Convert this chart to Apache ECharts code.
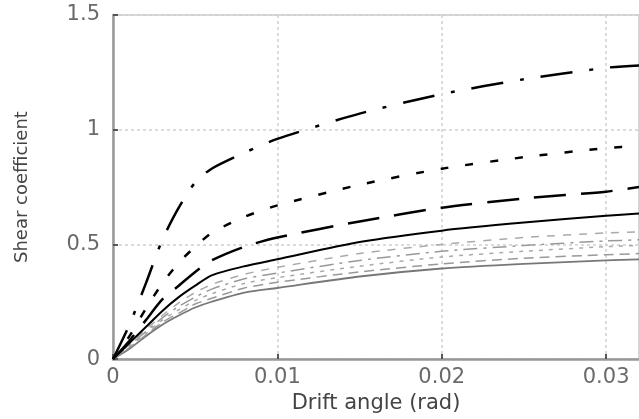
<!DOCTYPE html>
<html>
<head>
<meta charset="utf-8">
<script src="https://cdn.jsdelivr.net/npm/echarts@6/dist/echarts.min.js"></script>
<style>html,body{margin:0;padding:0;background:#fff}#c{width:639px;height:419px}</style>
</head>
<body>
<div id="c"></div>
<script>
var driftAngle = [0, 0.001, 0.002, 0.003, 0.004, 0.005, 0.006, 0.008, 0.01, 0.015, 0.02, 0.025, 0.03, 0.032];
var curveDashDot = [0, 0.15, 0.33, 0.52, 0.66, 0.77, 0.83, 0.90, 0.96, 1.07, 1.155, 1.22, 1.27, 1.28];
var curveDotted  = [0, 0.10, 0.22, 0.33, 0.42, 0.49, 0.55, 0.62, 0.67, 0.76, 0.83, 0.88, 0.92, 0.93];
var curveDashed  = [0, 0.08, 0.17, 0.26, 0.32, 0.38, 0.43, 0.49, 0.53, 0.60, 0.66, 0.70, 0.73, 0.75];
var curveSolid   = [0, 0.07, 0.14, 0.21, 0.27, 0.32, 0.365, 0.405, 0.435, 0.51, 0.56, 0.595, 0.625, 0.635];
var curveLight1  = [0, 0.065, 0.13, 0.19, 0.245, 0.29, 0.325, 0.37, 0.40, 0.46, 0.50, 0.53, 0.55, 0.555];
var curveLight2  = [0, 0.06, 0.12, 0.18, 0.23, 0.27, 0.305, 0.35, 0.375, 0.43, 0.47, 0.495, 0.515, 0.52];
var curveLight3  = [0, 0.055, 0.11, 0.17, 0.215, 0.255, 0.285, 0.33, 0.355, 0.405, 0.445, 0.47, 0.49, 0.495];
var curveLight4  = [0, 0.05, 0.105, 0.16, 0.20, 0.24, 0.265, 0.31, 0.335, 0.38, 0.415, 0.44, 0.455, 0.46];
var curveLight5  = [0, 0.045, 0.10, 0.15, 0.19, 0.225, 0.25, 0.29, 0.31, 0.36, 0.395, 0.415, 0.43, 0.435];

function pairs(ys) { return driftAngle.map(function (x, i) { return [x, ys[i]]; }); }
function mk(ys, color, width, dash) {
  return {
    type: 'line', data: pairs(ys), showSymbol: false, symbol: 'none', smooth: 0.25,
    lineStyle: { color: color, width: width, type: dash }, silent: true, animation: false
  };
}

var chart = echarts.init(document.getElementById('c'), null, { renderer: 'canvas' });
chart.setOption({
  animation: false,
  grid: { left: 113, top: 15, right: 0, bottom: 56, show: true, borderColor: '#cccccc', borderWidth: 1.5 },
  xAxis: {
    type: 'value', min: 0, max: 0.032, interval: 0.01,
    name: 'Drift angle (rad)', nameLocation: 'middle', nameGap: 33,
    nameTextStyle: { fontFamily: 'DejaVu Sans', fontSize: 21, color: '#444' },
    axisLine: { lineStyle: { color: '#999', width: 2.5 } },
    axisTick: { inside: true, length: 5, lineStyle: { color: '#555', width: 2 } },
    axisLabel: { fontFamily: 'DejaVu Sans', fontSize: 21, color: '#6a6a6a', margin: 8, showMaxLabel: false },
    splitLine: { lineStyle: { color: '#cfcfcf', width: 1.5, type: [3, 3] } }
  },
  yAxis: {
    type: 'value', min: 0, max: 1.5, interval: 0.5,
    name: 'Shear coefficient', nameLocation: 'middle', nameGap: 82,
    nameTextStyle: { fontFamily: 'DejaVu Sans', fontSize: 18, color: '#444' },
    axisLine: { show: true, lineStyle: { color: '#999', width: 2.5 } },
    axisTick: { show: true, inside: true, length: 5, lineStyle: { color: '#555', width: 2 } },
    axisLabel: { fontFamily: 'DejaVu Sans', fontSize: 21, color: '#6a6a6a', margin: 13 },
    splitLine: { lineStyle: { color: '#cfcfcf', width: 1.5, type: [3, 3] } }
  },
  series: [
    mk(curveLight5, '#777', 1.8, 'solid'),
    mk(curveLight4, '#999', 1.5, [10, 6]),
    mk(curveLight3, '#aaa', 1.5, [4, 6]),
    mk(curveLight2, '#999', 1.5, [14, 6, 3, 6]),
    mk(curveLight1, '#aaa', 1.5, [8, 8]),
    mk(curveSolid, '#000', 2, 'solid'),
    mk(curveDashed, '#000', 2.5, [32, 15]),
    mk(curveDotted, '#000', 2.5, [8, 17]),
    mk(curveDashDot, '#000', 2.5, [32, 17, 4, 17])
  ]
});
</script>
</body>
</html>
